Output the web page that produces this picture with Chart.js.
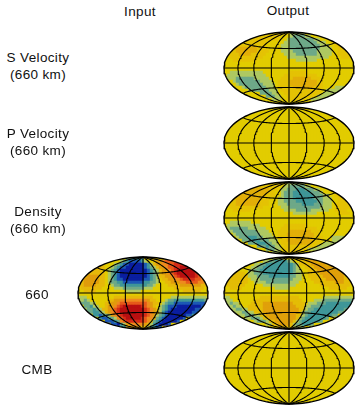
<!DOCTYPE html>
<html>
<head>
<meta charset="utf-8">
<script src="https://cdn.jsdelivr.net/npm/chart.js@4"></script>
<style>
  html, body { margin: 0; padding: 0; background: #fff; width: 360px; height: 409px; overflow: hidden; }
  canvas { position: absolute; }
  .label { position: absolute; width: 80px; text-align: center; font: 13.5px "Liberation Sans", sans-serif; letter-spacing: 0.35px; line-height: 17px; color: #111; white-space: nowrap; }
</style>
</head>
<body>
<script>
// Level: 0 yellow, 1-6 warm, a-e cool. Spaces only help counting columns.
const input660 = [
  '0000000000 000000bbcc cc00110000 0000000000 0000',
  '0000000000 0000abcddd dca0012234 4444333333 3333',
  '0000000000 00abcddeee eedca12233 4455544322 2222',
  '0000011110 0abcddeeee eedcba1223 4455666554 3222',
  '0001111100 abcdeeeeee eeedcba122 3456666665 4322',
  '0011111110 abcdeeeeee eeedcba122 3456666665 4322',
  '0112222110 abcdeeeeee eeedcba112 2345666665 4322',
  '0122222110 abcddeeeee eeddcba011 2233455554 4321',
  '0122222110 abbccddddd ddccbba001 1222334444 3321',
  '1122221110 0abbcccccc cccbba0000 1111222222 2111',
  '0111111100 00aaabbbbb bbaaa00000 0011111111 1100',
  '0011110000 000000aaaa a000000000 0000011111 1000',
  '0000000000 0000000000 0000000000 0000000000 0000',
  'aaa0000000 0011111111 1111100000 0aaaaaaaaa aaa0',
  'aaba000000 1122333333 333211000a bbcccccccc ccba',
  'abbbaa0001 1223444444 4443211 0ab ccdddddddd dddc',
  '00bbcaa001 2234566666 6543210abc dddeeeeeee eddd',
  '00abbcba11 2345666666 6654321abc deeeeeeeed dddd',
  '000bbccba1 2345666666 6654321acd eeeeeeeedd dddd',
  '00000ccdcb a234566666 665432abcd eeeeeeddcc cccc',
  '0000000cdd cba3456666 654331bcde eeeeed0000 0000',
  '000000000d ddcb345555 55431bcdee eeed000000 0000',
  '0000000000 0ddeca2233 3321acdeee d000000000 0000',
  '0000000000 000ccc1222 211accdd00 0000000000 0000'
];

const sVelocity660 = [
  '0000000000 0000001111 00aaaaa000 0000000000 0000',
  '0000000111 1111111110 00abbbbaa0 0000000000 0000',
  '0000011111 1111111100 0abbbbbbbb aa00000000 0000',
  '0001111111 1111000000 aabbbbbbbb baaa001111 1000',
  '0011111111 111100000a aabbbbbbbb bbaaa00111 1100',
  '0111222222 211100000a aabbbbbbbb bbaaaa0011 1110',
  '0111222222 211110000a aaabbbbbbb baaaaa0011 1110',
  '0111122221 1111000000 aaaabbbbbb baaaaa0011 1100',
  '0011111111 1110000000 0aaaaaaaaa aaaaa00001 1100',
  '0001111111 1000000000 0000aaaaaa a000000000 0000',
  '0000000000 0000000000 0000000000 0000000000 0000',
  '0000000000 0000000000 0000000000 0000000000 0000',
  '0000000000 0000000000 0000000000 0000000000 0000',
  '00aaaaaaaa aaa0000000 0011111100 0000000000 0000',
  '0aaaaaaaaa aaaa000000 1111111111 1000000000 0000',
  '0aaabbbbbb aaaaa00001 1112222221 1100000000 0000',
  '000abbbbbb bbaaaa0011 1122222222 2110000000 0000',
  '0000abbbbb bbbaaaa011 1122222222 2110000000 0000',
  '000000abbb bbbbaaa011 1112222222 1110000aaa 0000',
  '00000000ab bbbbbaaa01 1111111111 1110aaaaa0 0000',
  '0000000000 00bbbbaa00 1111111111 110aaaaa00 0000',
  '0000000000 0000bbbaa0 0111111111 0aaaaa0000 0000',
  '0000000000 000000aaa0 011111100a aaa0000000 0000',
  '0000000000 0000000000 0000000000 0000000000 0000'
];

const density660 = [
  '0000000000 0000011111 0aaaaaa000 0000000000 0000',
  '0000000011 1111111110 aabbbbbaa0 0000000000 0000',
  '0000011122 222221110a abbbcccbbb aa00000000 0000',
  '0001112222 222221100a bbbccccccb bba0000000 0000',
  '0011122222 222211100a bbbccccccc bbbaa00111 1000',
  '0111222222 22211100aa bbbccccccc bbbaaa0011 1100',
  '0111222222 22111000aa bbbbcccccc cbbaaa0011 1110',
  '0111222222 22111000aa abbbbbcccc bbbaaa0111 1110',
  '0011111111 111000000a aabbbbbbbb bbaaaa0111 1110',
  '0001111110 0000000000 aaaabbbbba aaaaa00111 1000',
  '0000000000 0000000000 000aaaaaaa a000000011 1100',
  '0000000000 0000000000 0000000000 0000000000 0000',
  '0000000000 0000000000 0000000000 0000000000 0000',
  '00aaaaaaa0 0000000000 0000000000 0000000000 0000',
  '0aaaaaaaaa aa00000000 1111111100 0000000000 0000',
  '0abbbbbbaa aaaa000001 1111111111 1000000000 0000',
  '0aabbbbbbb baaaa00011 1122222221 1100000000 0000',
  '000abbbbbb bbaaaa0011 1222222222 1100000000 0000',
  '0000abbbcc cbbaaaa011 1222222222 111000aaaa 0000',
  '000000bbbc ccbbbaaa01 1222222222 111000aaa0 0000',
  '00000000bb bcccbbaa01 1122222221 110aaaaa00 0000',
  '0000000000 0bbbcbbaa0 1111111111 0aaaaa0000 0000',
  '0000000000 0000bbbaa0 11111110aa aaa0000000 0000',
  '0000000000 000000aaa0 0111100000 0000000000 0000'
];

const output660 = [
  '0000000000 000000aaaa 0000111000 0000000000 0000',
  '0000000000 000aabbccc cba0011122 2111000000 0000',
  '0000000000 aabbcccccc cccba11112 2222111000 0000',
  '000000000a abbccccccc cccba00111 2222222211 1000',
  '00000000aa bbcccccccc cccbaa0011 1222222221 1100',
  '00111110aa bbbccccccc cccbaa0011 1122222222 1110',
  '01111111aa abbbbccccc ccbbaa0011 1112222222 1110',
  '011111110a aabbbbbbbb bbbaaa0001 1111222222 1110',
  '0111111100 aaaabbbbbb bbaaa00000 1111111222 1110',
  '0111111000 000aaaaaaa aaaa000000 0011111111 1100',
  '0011110000 0000000aaa aa00000000 0000011111 1000',
  '0000000000 0000000000 0000000000 0000000000 0000',
  '0000000000 0000000000 0000000000 0000000000 0000',
  'aa00000000 0011111111 1111100000 000aaaaaaa aaa0',
  'aaa0000000 1111111111 1111110000 aaabbbbbbb bbba',
  'aabaa00001 1112222222 22211110aa abbbcccccc cccb',
  '0aabaa0011 1112222222 2222111aab bbcccccccc ccbb',
  '00aabbaa11 1112222222 2222211abb cccccccccc bb00',
  '000aaabbaa 1112222222 222221abbc ccccccccbb 0000',
  '00000aabbb aa11222222 222211abcc ccccccbb00 0000',
  '0000000aab bba1122222 22221abccc ccccb00000 0000',
  '0000000000 abbba11222 2221abcccc ccb0000000 0000',
  '0000000000 0000aa1122 221abbcccb 0000000000 0000',
  '0000000000 0000000011 111aaaa000 0000000000 0000'
];

const flatField = [
  '0000000000 0000000000 0000000000 0000000000 0000',
  '0000000000 0000000000 0000000000 0000000000 0000',
  '0000000000 0000000000 0000000000 0000000000 0000',
  '0000000000 0000000000 0000000000 0000000000 0000',
  '0000000000 0000000000 0000000000 0000000000 0000',
  '0000000000 0000000000 0000000000 0000000000 0000',
  '0000000000 0000000000 0000000000 0000000000 0000',
  '0000000000 0000000000 0000000000 0000000000 0000',
  '0000000000 0000000000 0000000000 0000000000 0000',
  '0000000000 0000000000 0000000000 0000000000 0000',
  '0000000000 0000000000 0000000000 0000000000 0000',
  '0000000000 0000000000 0000000000 0000000000 0000',
  '0000000000 0000000000 0000000000 0000000000 0000',
  '0000000000 0000000000 0000000000 0000000000 0000',
  '0000000000 0000000000 0000000000 0000000000 0000',
  '0000000000 0000000000 0000000000 0000000000 0000',
  '0000000000 0000000000 0000000000 0000000000 0000',
  '0000000000 0000000000 0000000000 0000000000 0000',
  '0000000000 0000000000 0000000000 0000000000 0000',
  '0000000000 0000000000 0000000000 0000000000 0000',
  '0000000000 0000000000 0000000000 0000000000 0000',
  '0000000000 0000000000 0000000000 0000000000 0000',
  '0000000000 0000000000 0000000000 0000000000 0000',
  '0000000000 0000000000 0000000000 0000000000 0000'
];

const meridians = [-180, -135, -90, -45, 0, 45, 90, 135, 180];
const parallels = [-45, 0, 45];

const colors = {
  '0': '#e2cc00', '1': '#e6b80a', '2': '#e09c0c', '3': '#ee8a1e', '4': '#e6591a', '5': '#d42c18', '6': '#b80f10',
  'a': '#aec862', 'b': '#6ea888', 'c': '#3f9698', 'd': '#1c58b4', 'e': '#0a1ea0'
};
// the weaker output maps only reach gold, so their warm levels are paler
const softColors = { ...colors, '1': '#e4c204', '2': '#e2ae08' };
const midColors = { ...colors, '1': '#e4bc06', '2': '#e0a00a' };

const ROOT2 = Math.SQRT2;
const HALF_W = 65, HALF_H = 36;      // ellipse size in px
const CANVAS_W = 136, CANVAS_H = 78;
const CELL = 3;                      // map cell in px

function hammer(lon, lat) {
  const l = lon * Math.PI / 360, p = lat * Math.PI / 180;
  const d = Math.sqrt(1 + Math.cos(p) * Math.cos(l));
  return { x: 2 * ROOT2 * Math.cos(p) * Math.sin(l) / d, y: ROOT2 * Math.sin(p) / d };
}

function cellPoints(rows) {
  const pts = [];
  rows.forEach((row, r) => {
    [...row.replace(/ /g, '')].forEach((level, c) => {
      pts.push({
        x: (-HALF_W + CELL * (c + 0.5)) * 2 * ROOT2 / HALF_W,
        y: (HALF_H - CELL * (r + 0.5)) * ROOT2 / HALF_H,
        level
      });
    });
  });
  return pts;
}

function gridLine(pts, width) {
  return { data: pts, showLine: true, borderColor: '#000', borderWidth: width, pointRadius: 0, tension: 0, order: 1 };
}

// keep the map cells inside the projection outline
const clipEllipse = {
  id: 'clipEllipse',
  beforeDatasetDraw(chart, args) {
    if (args.index !== 0) return;
    const { x, y } = chart.scales;
    const ctx = chart.ctx;
    ctx.save();
    ctx.beginPath();
    ctx.ellipse(x.getPixelForValue(0), y.getPixelForValue(0), HALF_W, HALF_H, 0, 0, Math.PI * 2);
    ctx.clip();
  },
  afterDatasetDraw(chart, args) {
    if (args.index === 0) chart.ctx.restore();
  }
};

function drawMap(rows, cx, cy, palette) {
  const canvas = document.createElement('canvas');
  canvas.width = CANVAS_W;
  canvas.height = CANVAS_H;
  canvas.style.left = (cx - CANVAS_W / 2) + 'px';
  canvas.style.top = (cy - CANVAS_H / 2) + 'px';
  document.body.appendChild(canvas);

  const cells = cellPoints(rows);
  const datasets = [{
    data: cells,
    pointStyle: 'rect',
    pointRadius: 2.4,
    pointBorderWidth: 0,
    pointBackgroundColor: cells.map(p => palette[p.level]),
    showLine: false,
    order: 2
  }];
  meridians.forEach(lon => {
    const pts = [];
    for (let lat = -90; lat <= 90; lat += 3) pts.push(hammer(lon, lat));
    datasets.push(gridLine(pts, Math.abs(lon) === 180 ? 1.4 : 1.1));
  });
  parallels.forEach(lat => {
    const pts = [];
    for (let lon = -180; lon <= 180; lon += 5) pts.push(hammer(lon, lat));
    datasets.push(gridLine(pts, 1.1));
  });

  const xMax = 2 * ROOT2 * (CANVAS_W / 2) / HALF_W;
  const yMax = ROOT2 * (CANVAS_H / 2) / HALF_H;
  new Chart(canvas, {
    type: 'scatter',
    data: { datasets },
    options: {
      responsive: false,
      animation: false,
      layout: { autoPadding: false, padding: 0 },
      plugins: { legend: { display: false }, tooltip: { enabled: false } },
      scales: {
        x: { type: 'linear', display: false, min: -xMax, max: xMax },
        y: { type: 'linear', display: false, min: -yMax, max: yMax }
      }
    },
    plugins: [clipEllipse]
  });
}

function addLabel(text, cx, top) {
  const el = document.createElement('div');
  el.className = 'label';
  el.innerHTML = text;
  el.style.left = (cx - 40) + 'px';
  el.style.top = top + 'px';
  document.body.appendChild(el);
}

drawMap(sVelocity660, 288.5, 67.5, softColors);
drawMap(flatField, 288.5, 142.5, colors);
drawMap(density660, 288.5, 218, softColors);
drawMap(output660, 288.5, 293, midColors);
drawMap(flatField, 288.5, 368, colors);
drawMap(input660, 143, 292.5, colors);

addLabel('Input', 140, 3);
addLabel('Output', 288, 2);
addLabel('S Velocity<br>(660 km)', 38, 49);
addLabel('P Velocity<br>(660 km)', 38, 125);
addLabel('Density<br>(660 km)', 38, 203);
addLabel('660', 37, 286);
addLabel('CMB', 37, 361);
</script>
</body>
</html>
